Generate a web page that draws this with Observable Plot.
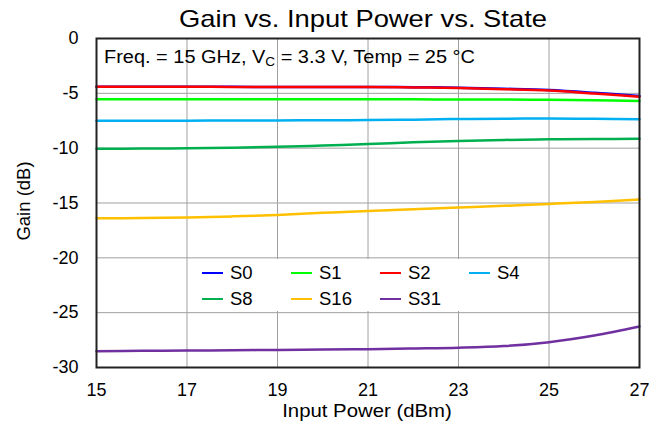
<!DOCTYPE html>
<html><head><meta charset="utf-8">
<script src="https://cdn.jsdelivr.net/npm/d3@7"></script>
<script src="https://cdn.jsdelivr.net/npm/@observablehq/plot@0.6"></script>
<style>
body{margin:0;background:#fff;font-family:"Liberation Sans",Arial,sans-serif;}
#wrap{position:relative;width:649px;height:428px;overflow:hidden;background:#fff;}
#wrap svg{position:absolute;left:0;top:0;}
.ov{position:absolute;white-space:nowrap;color:#000;line-height:normal;}
.ov sub{font-size:0.68em;vertical-align:-0.3em;line-height:0;}
#legend{position:absolute;background:#fff;}
.li{position:absolute;font-size:18.5px;line-height:22px;height:22px;}
.li span.sw{position:absolute;left:0;top:10px;width:21px;height:2px;}
.li span.tx{position:absolute;left:28px;top:0;white-space:nowrap;}
</style></head><body>
<div id="wrap"></div>
<script>
const inputPower = [15,16,17,18,19,20,21,22,23,24,25,26,27];
const S0  = [-4.40,-4.40,-4.40,-4.41,-4.42,-4.42,-4.42,-4.44,-4.49,-4.58,-4.70,-4.95,-5.25];
const S1  = [-5.53,-5.53,-5.53,-5.53,-5.53,-5.54,-5.54,-5.55,-5.56,-5.57,-5.59,-5.64,-5.70];
const S2  = [-4.40,-4.40,-4.40,-4.42,-4.43,-4.43,-4.43,-4.46,-4.52,-4.62,-4.75,-5.02,-5.31];
const S4  = [-7.50,-7.50,-7.49,-7.48,-7.47,-7.46,-7.44,-7.40,-7.34,-7.31,-7.30,-7.32,-7.36];
const S8  = [-10.06,-10.04,-10.01,-9.96,-9.88,-9.76,-9.63,-9.47,-9.34,-9.25,-9.19,-9.16,-9.15];
const S16 = [-16.39,-16.37,-16.33,-16.22,-16.09,-15.90,-15.72,-15.57,-15.42,-15.26,-15.08,-14.90,-14.69];
const S31 = [-28.51,-28.48,-28.45,-28.43,-28.40,-28.37,-28.33,-28.27,-28.20,-28.05,-27.69,-27.08,-26.26];
const seriesNames  = ["S0","S1","S2","S4","S8","S16","S31"];
const seriesValues = [S0,S1,S2,S4,S8,S16,S31];
const seriesColors = ["#0000ff","#00ff00","#ff0000","#00b0f0","#00b050","#ffc000","#7030a0"];
const xTicks = [15,17,19,21,23,25,27];
const yTicks = [0,-5,-10,-15,-20,-25,-30];
const titleText = "Gain vs. Input Power vs. State";
const xLabel = "Input Power (dBm)";
const yLabel = "Gain (dB)";

const rows = [];
seriesNames.forEach((s,i)=>inputPower.forEach((x,j)=>rows.push({s, x, y: seriesValues[i][j]})));

const chart = Plot.plot({
  width:649, height:428,
  marginLeft:96, marginRight:10, marginTop:38, marginBottom:61,
  style:{fontFamily:"Liberation Sans, Arial, sans-serif", fontSize:"18px", color:"#000", background:"transparent"},
  x:{domain:[15,27], ticks:xTicks, tickSize:0, tickPadding:16, label:null},
  y:{domain:[-30,0], ticks:yTicks, tickSize:0, tickPadding:18, label:null, tickFormat:d=>String(d)},
  color:{domain:seriesNames, range:seriesColors},
  marks:[
    Plot.gridX(xTicks.slice(1,-1), {stroke:"#a0a0a0", strokeOpacity:1}),
    Plot.gridY(yTicks.slice(1,-1), {stroke:"#a0a0a0", strokeOpacity:1}),
    Plot.line(rows, {x:"x", y:"y", z:"s", stroke:"s", strokeWidth:2.5, curve:"catmull-rom"}),
    Plot.frame({stroke:"#222", strokeWidth:2})
  ]
});
const wrap = document.getElementById("wrap");
wrap.appendChild(chart);

function ov(html, x, y, size, extra, origin){
  const d = document.createElement("div");
  d.className = "ov";
  d.innerHTML = html;
  d.style.left = x+"px"; d.style.top = y+"px"; d.style.fontSize = size+"px";
  d.style.transform = extra || "translate(-50%,-50%)";
  if (origin) d.style.transformOrigin = origin;
  wrap.appendChild(d);
  return d;
}
ov(titleText, 362.5, 19, 24, "translate(-50%,-50%) scaleX(1.14)");
ov(xLabel, 367, 410.5, 18.5, "translate(-50%,-50%) scaleX(1.1)");
ov(yLabel, 24, 201, 18.5, "translate(-50%,-50%) rotate(-90deg)");
ov("Freq. = 15 GHz, V<sub>C</sub> = 3.3 V, Temp = 25 °C", 104, 57.3, 17.5, "translate(0,-50%) scaleX(1.14)", "0 50%");

const lg = document.createElement("div");
lg.id = "legend";
lg.style.left="195px"; lg.style.top="259px"; lg.style.width="345px"; lg.style.height="52px";
wrap.appendChild(lg);
seriesNames.forEach((s,i)=>{
  const col = i%4, row = Math.floor(i/4);
  const it = document.createElement("div");
  it.className="li";
  it.style.left = (7 + col*89)+"px";
  it.style.top = (3 + row*26)+"px";
  it.innerHTML = `<span class="sw" style="background:${seriesColors[i]}"></span><span class="tx">${s}</span>`;
  lg.appendChild(it);
});
</script>
</body></html>
